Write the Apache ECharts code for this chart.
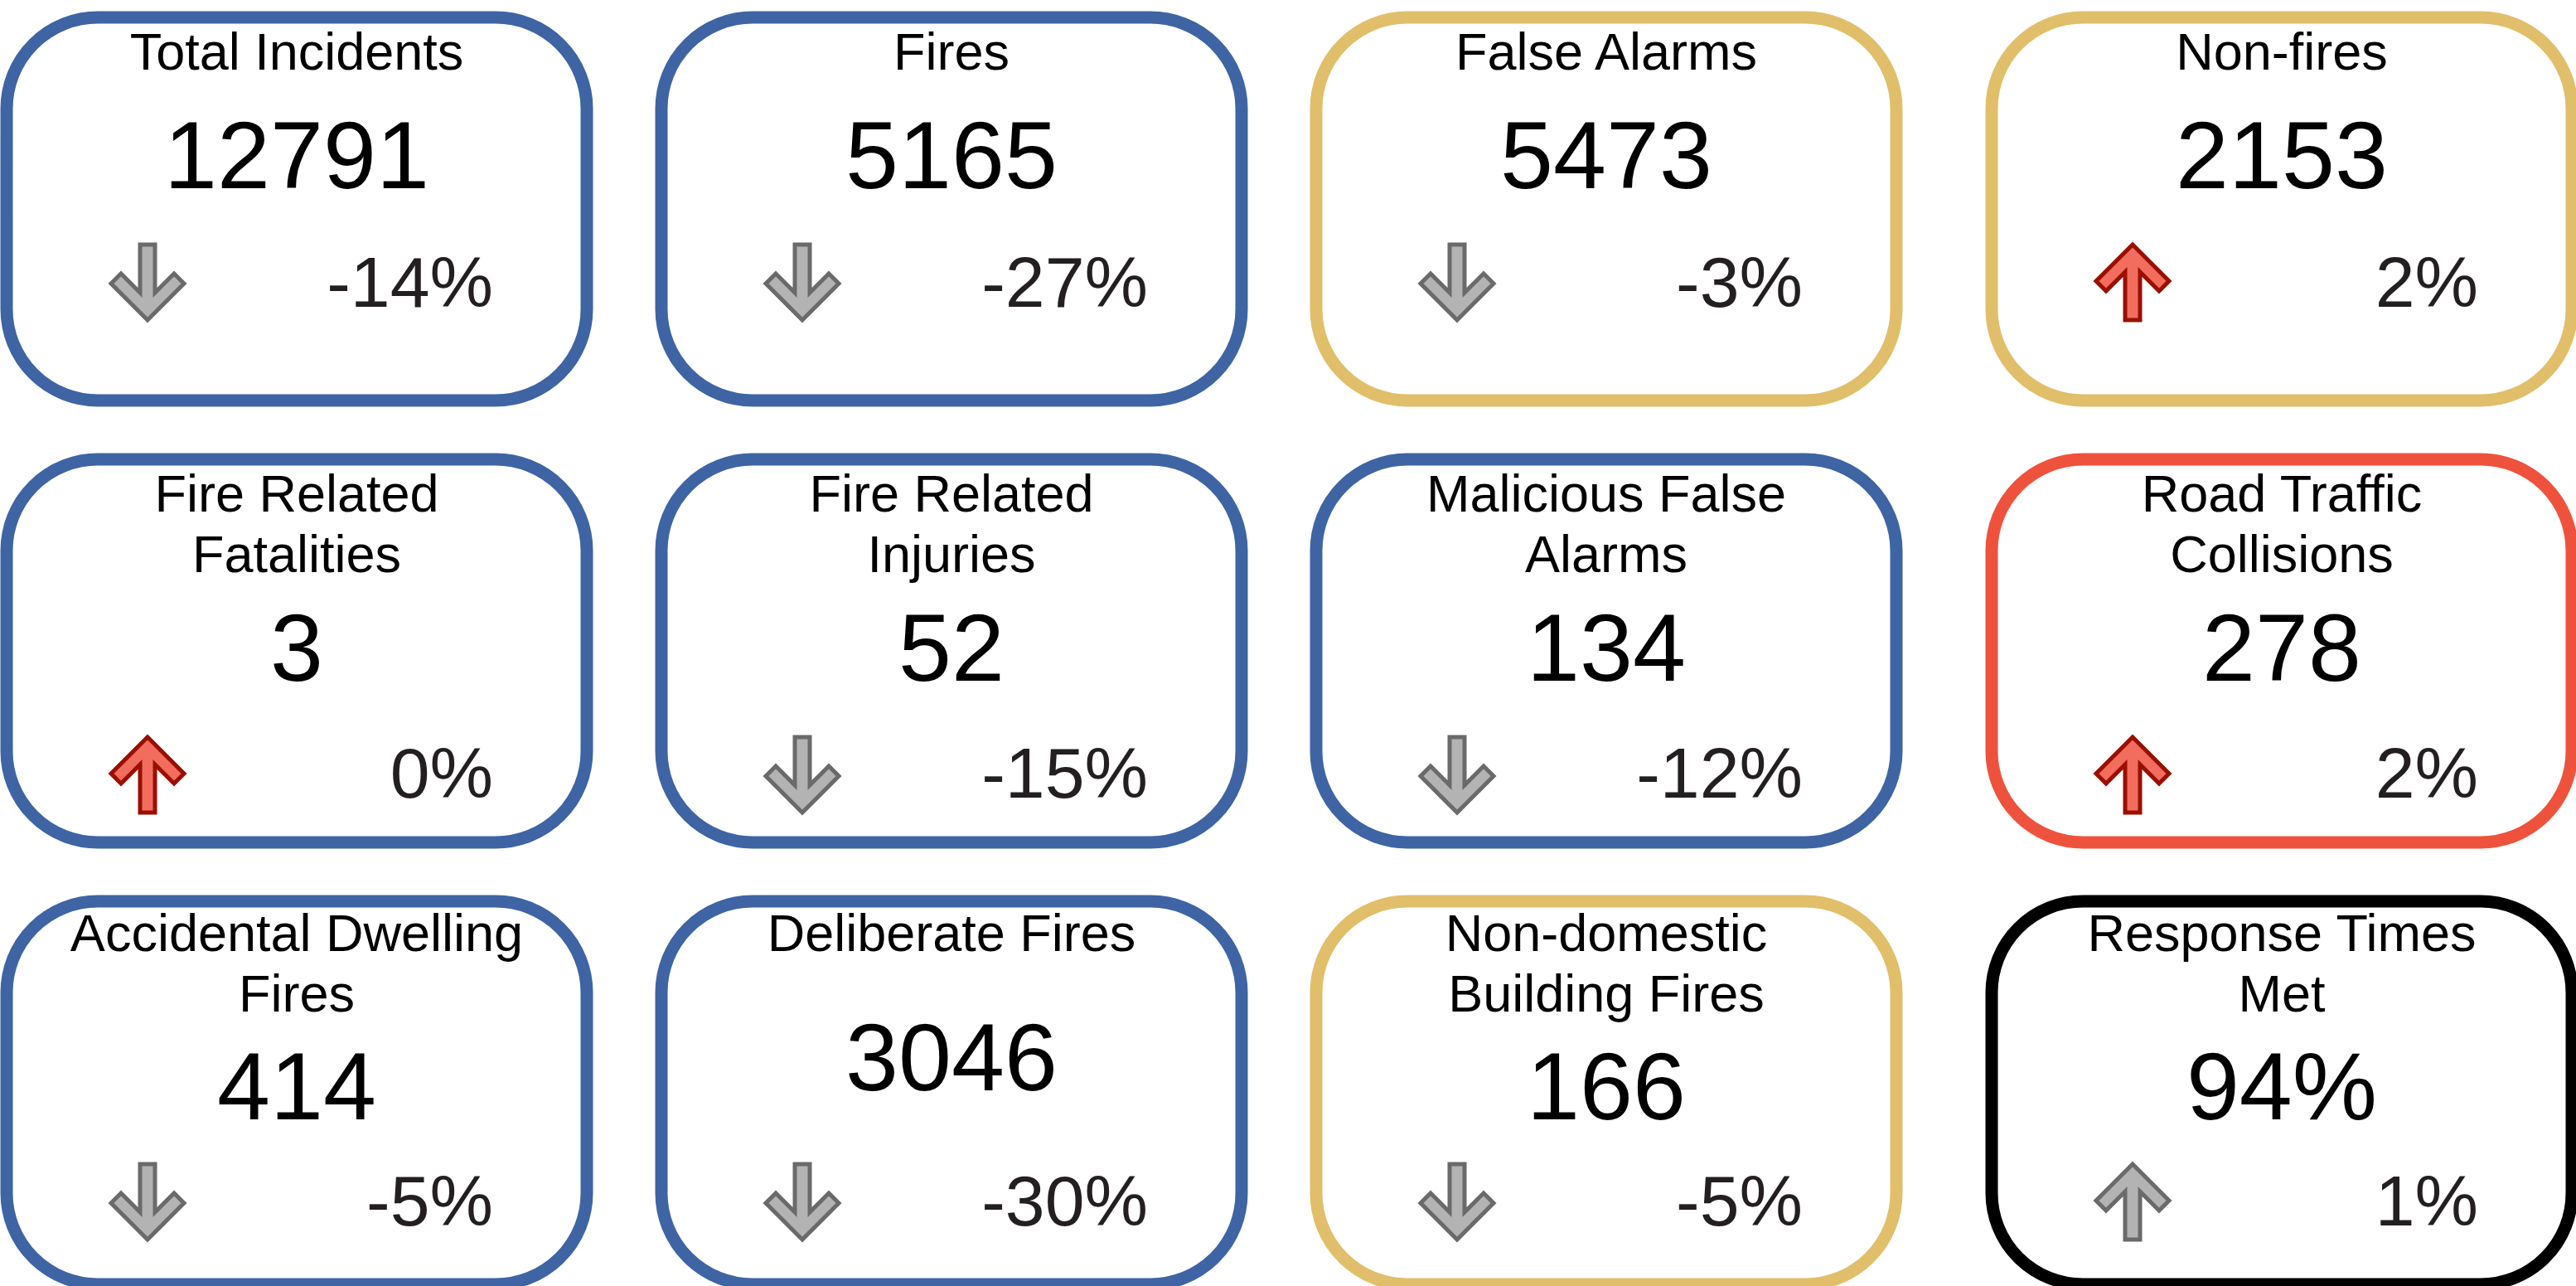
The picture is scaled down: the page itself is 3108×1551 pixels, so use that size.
<!DOCTYPE html>
<html>
<head>
<meta charset="utf-8">
<title>Incident KPIs</title>
<script src="https://cdn.jsdelivr.net/npm/echarts@6/dist/echarts.min.js"></script>
<style>
    html, body { margin: 0; padding: 0; background: #fff; }
    #main { width: 3108px; height: 1551px; }
</style>
</head>
<body>
<div id="main"></div>
<script>
// card data, read left-to-right, top-to-bottom
var titles = ['Total Incidents', 'Fires', 'False Alarms', 'Non-fires',
    'Fire Related\nFatalities', 'Fire Related\nInjuries', 'Malicious False\nAlarms', 'Road Traffic\nCollisions',
    'Accidental Dwelling\nFires', 'Deliberate Fires', 'Non-domestic\nBuilding Fires', 'Response Times\nMet'];
var values = [12791, 5165, 5473, 2153, 3, 52, 134, 278, 414, 3046, 166, 94];
var valueUnits = ['', '', '', '', '', '', '', '', '', '', '', '%'];
var changes = [-14, -27, -3, 2, 0, -15, -12, 2, -5, -30, -5, 1];
var trend = ['down', 'down', 'down', 'up', 'up', 'down', 'down', 'up', 'down', 'down', 'down', 'up'];
var trendFlag = ['ok', 'ok', 'ok', 'bad', 'bad', 'ok', 'ok', 'bad', 'ok', 'ok', 'ok', 'ok'];
var rag = ['blue', 'blue', 'amber', 'amber', 'blue', 'blue', 'blue', 'red', 'blue', 'blue', 'amber', 'black'];

var borderColours = { blue: '#3e64a4', amber: '#e1be6a', red: '#ef523c', black: '#000000' };
var arrowColours = {
    bad: { fill: '#f26d5e', stroke: '#9a0f00' },
    ok: { fill: '#b3b3b3', stroke: '#6a6a6a' }
};

// layout
var cols = 4;
var colPitch = 796, firstCol = 358;
var colNudge = [0, -6, -12, 7];   // small pixel shifts of the card columns
var rowPitch = 533, firstRow = 252;
var cardW = 715, cardH = 477, cardR = 110, borderW = 15;
var font = '"Liberation Sans", Arial, sans-serif';
var titleSize = 63, numSize = 115, pctSize = 86, lineGap = 73;
// offsets from card top (text baselines, arrow centre)
var rowLayout = [
    { title: 71, num: { 1: 214, 2: 275 }, pct: 357, arrow: 327 },
    { title: 71, num: { 1: 214, 2: 275 }, pct: 416, arrow: 388 },
    { title: 68, num: { 1: 236, 2: 271 }, pct: 399, arrow: 370 }
];
// down arrow outline, centred on (0,0)
var arrowShape = [[-9, -45.5], [9, -45.5], [9, 12.5], [32, -10.5], [44, 1.5], [0, 45.5],
    [-44, 1.5], [-32, -10.5], [-9, 12.5]];

var chart = echarts.init(document.getElementById('main'), null, { renderer: 'svg' });

var cardData = titles.map(function (t, i) {
    return [i % cols, Math.floor(i / cols), i];
});

function label(str, x, baseline, size, align, colour) {
    return {
        type: 'text',
        style: {
            text: str,
            x: x,
            y: baseline - 0.35 * size,
            font: size + 'px ' + font,
            fill: colour,
            align: align,
            verticalAlign: 'middle'
        }
    };
}

function renderCard(params, api) {
    var i = api.value(2);
    var row = api.value(1);
    var c = api.coord([api.value(0), row]);
    var cx = c[0] + colNudge[api.value(0)];
    var L = rowLayout[row];
    var top = c[1] - cardH / 2;
    var lines = titles[i].split('\n');
    var children = [{
        type: 'rect',
        shape: { x: cx - cardW / 2 + borderW / 2, y: top + borderW / 2,
            width: cardW - borderW, height: cardH - borderW, r: cardR },
        style: { fill: '#ffffff', stroke: borderColours[rag[i]], lineWidth: borderW }
    }];
    lines.forEach(function (ln, k) {
        children.push(label(ln, cx, top + L.title + k * lineGap, titleSize, 'center', '#000'));
    });
    children.push(label(values[i] + valueUnits[i], cx, top + L.num[lines.length], numSize, 'center', '#000'));
    children.push(label(changes[i] + '%', cx + 237, top + L.pct, pctSize, 'right', '#231f20'));

    var flip = trend[i] === 'up' ? -1 : 1;
    var ax = cx - 180, ay = top + L.arrow;
    var col = arrowColours[trendFlag[i]];
    children.push({
        type: 'polygon',
        shape: { points: arrowShape.map(function (p) { return [ax + p[0], ay + p[1] * flip]; }) },
        style: { fill: col.fill, stroke: col.stroke, lineWidth: 5, lineJoin: 'miter' }
    });
    return { type: 'group', children: children };
}

var option = {
    animation: false,
    grid: { left: 0, right: 0, top: 0, bottom: 0 },
    xAxis: { type: 'value', show: false, min: -firstCol / colPitch, max: (3108 - firstCol) / colPitch },
    yAxis: { type: 'value', show: false, inverse: true, min: -firstRow / rowPitch, max: (1551 - firstRow) / rowPitch },
    series: [{
        type: 'custom',
        silent: true,
        clip: false,
        renderItem: renderCard,
        encode: { x: 0, y: 1 },
        data: cardData
    }]
};
chart.setOption(option);
</script>
</body>
</html>
